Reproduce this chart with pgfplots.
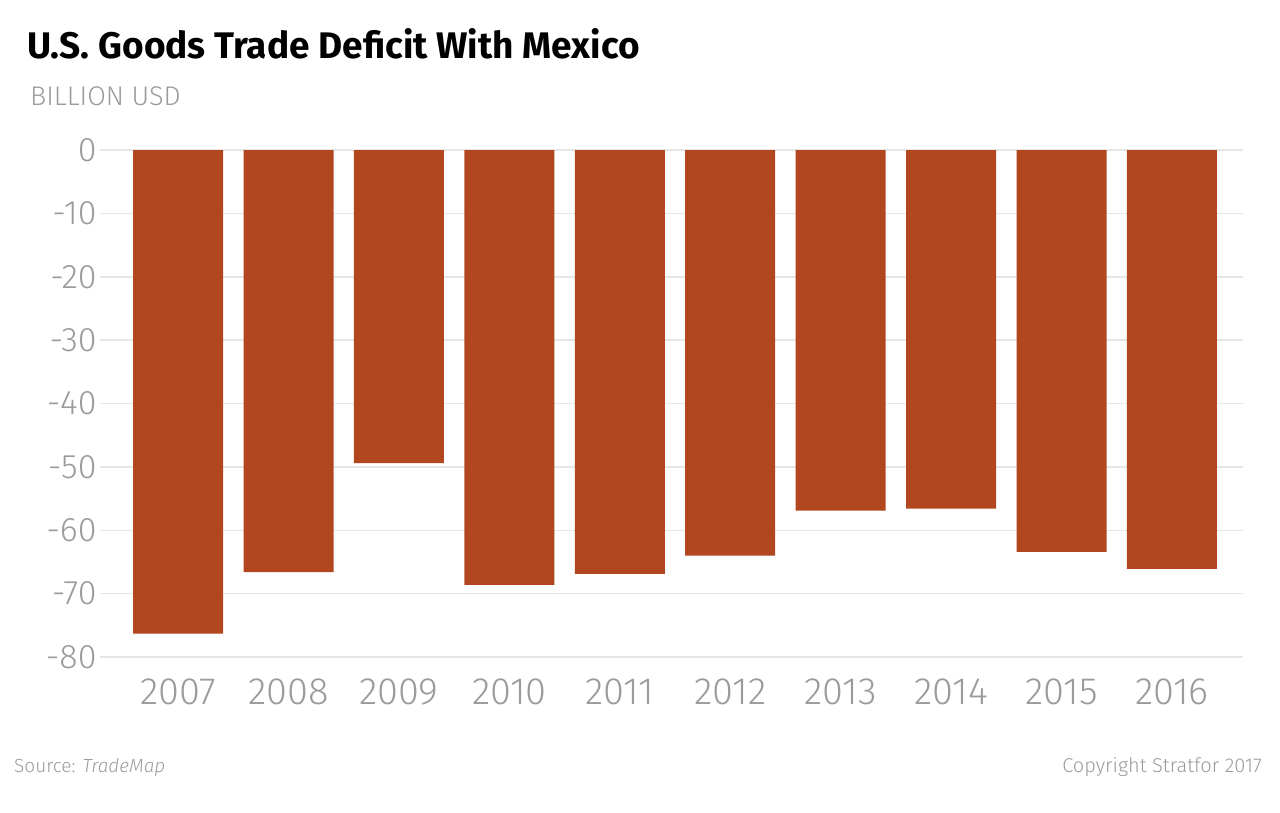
\documentclass[border=0pt]{standalone}
\usepackage{pgfplots}
\pgfplotsset{compat=1.18}
\usepackage{fontspec}
\setmainfont{Fira Sans Light}
\newfontfamily\boldfont{Fira Sans Bold}
\newfontfamily\italfont{Fira Sans Light Italic}
\definecolor{barc}{HTML}{B1461F}
\definecolor{txtgray}{HTML}{9B9B9B}
\definecolor{gridc}{HTML}{E6E6E6}
\pgfplotstableread{
x y
0 -76.3
1 -66.6
2 -49.4
3 -68.6
4 -66.9
5 -64.0
6 -56.9
7 -56.6
8 -63.4
9 -66.1
}\datatable
\begin{document}
\begin{tikzpicture}[x=1pt,y=1pt]
\path[use as bounding box] (0,0) rectangle (1280,-813);
\node[anchor=base west,inner sep=0pt] at (27,-59) {\boldfont\fontsize{37}{40}\selectfont U.S. Goods Trade Deficit With Mexico};
\node[anchor=base west,inner sep=0pt,text=txtgray] at (30,-106) {\fontsize{27}{30}\selectfont BILLION USD};
\node[anchor=base west,inner sep=0pt,text=txtgray] at (14,-772) {\fontsize{19}{24}\selectfont Source: \italfont TradeMap};
\node[anchor=base east,inner sep=0pt,text=txtgray] at (1262,-772) {\fontsize{20}{24}\selectfont Copyright Stratfor 2017};
\begin{axis}[
  at={(100pt,-657pt)}, anchor=south west,
  scale only axis, width=1143pt, height=507pt,
  xmin=-0.707, xmax=9.643, ymin=-80, ymax=0,
  axis line style={draw=none},
  tick style={draw=none},
  ymajorgrids, grid style={gridc, line width=1.5pt},
  ytick={0,-10,...,-80},
  xtick=data,
  xticklabels={2007,2008,2009,2010,2011,2012,2013,2014,2015,2016},
  yticklabel style={text=txtgray, font=\fontsize{34}{36}\selectfont, xshift=0pt},
  xticklabel style={text=txtgray, font=\fontsize{38}{40}\selectfont, yshift=-18pt},
  /pgf/number format/assume math mode=true,
  clip=false,
]
\addplot[ybar, bar width=90pt, fill=barc, draw=none] table[x=x,y=y] {\datatable};
\end{axis}
\end{tikzpicture}
\end{document}
